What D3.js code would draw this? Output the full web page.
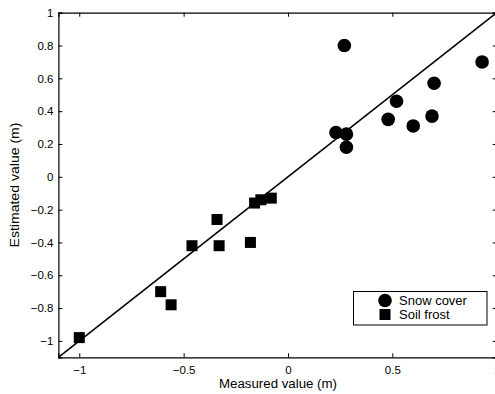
<!DOCTYPE html>
<html><head><meta charset="utf-8">
<script src="https://cdn.jsdelivr.net/npm/d3@7"></script>
<style>body{margin:0;background:#fff}svg{display:block;font-family:"Liberation Sans",Arial,sans-serif}</style>
</head><body>
<script>
const snowX = [0.27, 0.93, 0.70, 0.52, 0.48, 0.60, 0.69, 0.23, 0.28, 0.28];
const snowY = [0.80, 0.70, 0.57, 0.46, 0.35, 0.31, 0.37, 0.27, 0.26, 0.18];
const frostX = [-1.00, -0.61, -0.56, -0.46, -0.34, -0.33, -0.18, -0.16, -0.13, -0.08];
const frostY = [-0.98, -0.70, -0.78, -0.42, -0.26, -0.42, -0.40, -0.16, -0.14, -0.13];
const xTicks = [-1, -0.5, 0, 0.5, 1];
const yTicks = [-1, -0.8, -0.6, -0.4, -0.2, 0, 0.2, 0.4, 0.6, 0.8, 1];
const seriesNames = ["Snow cover", "Soil frost"];
const xLabel = "Measured value (m)";
const yLabel = "Estimated value (m)";

const W = 495, H = 394;
const svg = d3.select("body").append("svg").attr("width", W).attr("height", H);
const x = d3.scaleLinear().domain([-1.1, 1]).range([58.4, 496.7]);
const y = d3.scaleLinear().domain([-1.1, 1]).range([357.3, 12.7]);
const fmt = d => d3.format("")(d).replace("-", "\u2212");

// axes (inward ticks)
const tl = 4;
svg.append("g").attr("transform", `translate(0,${y(-1.1)})`)
  .call(d3.axisBottom(x).tickValues(xTicks).tickSize(-tl).tickPadding(9).tickFormat(fmt));
svg.append("g").attr("transform", `translate(0,${y(1)})`)
  .call(d3.axisTop(x).tickValues(xTicks).tickSize(-tl).tickFormat(""));
svg.append("g").attr("transform", `translate(${x(-1.1)},0)`)
  .call(d3.axisLeft(y).tickValues(yTicks).tickSize(-tl).tickPadding(5).tickFormat(fmt));
svg.append("g").attr("transform", `translate(${x(1)},0)`)
  .call(d3.axisRight(y).tickValues(yTicks).tickSize(-tl).tickFormat(""));
svg.selectAll(".domain").attr("stroke", "#000").attr("stroke-width", 1.2);
svg.selectAll(".tick line").attr("stroke", "#000");
svg.selectAll(".tick text").attr("font-size", 11.5).attr("fill", "#000")
  .attr("font-family", "Liberation Sans, Arial, sans-serif");

// 1:1 line
svg.append("line").attr("x1", x(-1.1)).attr("y1", y(-1.1)).attr("x2", x(1)).attr("y2", y(1))
  .attr("stroke", "#000").attr("stroke-width", 1.6);

// points
svg.append("g").selectAll("circle").data(snowX).join("circle")
  .attr("cx", (d) => x(d)).attr("cy", (d, i) => y(snowY[i])).attr("r", 6.8).attr("fill", "#000");
const s = 11;
svg.append("g").selectAll("rect").data(frostX).join("rect")
  .attr("x", d => x(d) - s / 2).attr("y", (d, i) => y(frostY[i]) - s / 2)
  .attr("width", s).attr("height", s).attr("fill", "#000");

// labels
svg.append("text").attr("x", 278).attr("y", 388).attr("text-anchor", "middle")
  .attr("font-size", 12.5).attr("textLength", 118).attr("lengthAdjust", "spacingAndGlyphs").text(xLabel);
svg.append("text").attr("transform", `translate(18.5,185) rotate(-90)`).attr("text-anchor", "middle")
  .attr("font-size", 12.5).attr("textLength", 125).attr("lengthAdjust", "spacingAndGlyphs").text(yLabel);

// legend
const lg = svg.append("g");
lg.append("rect").attr("x", 353.5).attr("y", 291.5).attr("width", 133.5).attr("height", 33.5)
  .attr("fill", "#fff").attr("stroke", "#000").attr("stroke-width", 1);
lg.append("circle").attr("cx", 385).attr("cy", 300.5).attr("r", 6.8).attr("fill", "#000");
lg.append("rect").attr("x", 385 - 5.5).attr("y", 314.5 - 5.5).attr("width", 11).attr("height", 11).attr("fill", "#000");
lg.selectAll("text.l").data(seriesNames).join("text").attr("class", "l")
  .attr("x", 399).attr("y", (d, i) => 305 + i * 14).attr("font-size", 13).text(d => d);
</script>
</body></html>
